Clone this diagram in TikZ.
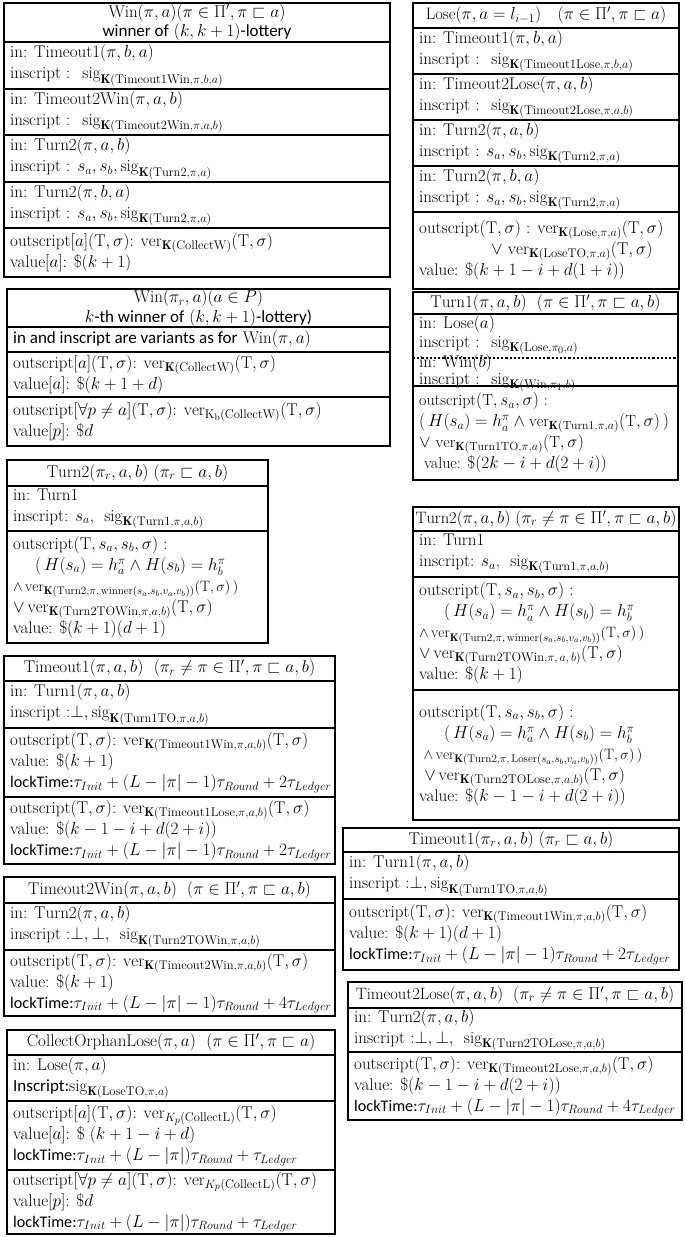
\documentclass[tikz,border=0pt]{standalone}
\usepackage{amsmath,amssymb}
\usepackage{fontspec}
\renewcommand\defaultscriptratio{.74}
\renewcommand\defaultscriptscriptratio{.56}
\newfontfamily\calibfont{Carlito}
\newcommand{\cf}[1]{{\calibfont #1}}
\newcommand{\K}{\mathbf{K}}
\newcommand{\Tt}{\mathrm{T}}
\newcommand{\rmm}[1]{\mathrm{#1}}
\newcommand{\lockline}[1]{{\fontsize{16.2}{21}\selectfont\cf{lockTime:}$#1$}}
\tikzset{
  frame/.style={draw, line width=2.6pt},
  divider/.style={line width=2.2pt},
  dotdiv/.style={line width=2.2pt, dotted},
  txt/.style={anchor=west, align=left, inner sep=0pt, font=\fontsize{17}{21}\selectfont},
  ttl/.style={anchor=center, align=center, inner sep=0pt, font=\fontsize{17}{19.5}\selectfont},
}
\begin{document}
\begin{tikzpicture}[x=1pt,y=-1pt]
\useasboundingbox (0,0) rectangle (685,1237);
% ================= LEFT COLUMN =================
% Win(pi,a)
\draw[frame] (4,3) rectangle (390,277);
\foreach \yy in {42,89,135,182,228} \draw[divider] (4,\yy) -- (390,\yy);
\node[ttl] (winT) at (197,22.5) {$\rmm{Win}(\pi,a)(\pi\in\Pi',\pi\sqsubset a)$\\ \cf{winner of} $(k,k+1)$\cf{-lottery}};
\node[txt] (winA) at (10,65.5) {in: $\rmm{Timeout1}(\pi,b,a)$\\ inscript : \ $\rmm{sig}_{\K(\rmm{Timeout1Win},\pi,b,a)}$};
\node[txt] (winB) at (10,112) {in: $\rmm{Timeout2Win}(\pi,a,b)$\\ inscript : \ $\rmm{sig}_{\K(\rmm{Timeout2Win},\pi,a,b)}$};
\node[txt] (winC) at (10,158.5) {in: $\rmm{Turn2}(\pi,a,b)$\\ inscript : $s_a,s_b,\rmm{sig}_{\K(\rmm{Turn2},\pi,a)}$};
\node[txt] (winD) at (10,205) {in: $\rmm{Turn2}(\pi,b,a)$\\ inscript : $s_a,s_b,\rmm{sig}_{\K(\rmm{Turn2},\pi,a)}$};
\node[txt] (winE) at (10,252.5) {outscript$[a](\Tt,\sigma)$: $\rmm{ver}_{\K(\rmm{CollectW})}(\Tt,\sigma)$\\ value$[a]$: $\$(k+1)$};
% Win(pi_r,a)
\draw[frame] (7,289) rectangle (390,446);
\foreach \yy in {327,352,397} \draw[divider] (7,\yy) -- (390,\yy);
\node[ttl] (winrT) at (198.5,308) {$\rmm{Win}(\pi_r,a)(a\in P)$\\ $k$\cf{-th winner of} $(k,k+1)$\cf{-lottery)}};
\node[txt] (winrA) at (13,339.5) {\cf{in and inscript are variants as for} $\rmm{Win}(\pi,a)$};
\node[txt] (winrB) at (13,374.5) {outscript$[a](\Tt,\sigma)$: $\rmm{ver}_{\K(\rmm{CollectW})}(\Tt,\sigma)$\\ value$[a]$: $\$(k+1+d)$};
\node[txt] (winrC) at (13,421.5) {outscript$[\forall p\neq a](\Tt,\sigma)$: $\rmm{ver}_{\rmm{K}_{\rmm{b}}(\rmm{CollectW})}(\Tt,\sigma)$\\ value$[p]$: $\$d$};
% Turn2(pi_r,a,b)
\draw[frame] (7,460) rectangle (268,643);
\foreach \yy in {486,531} \draw[divider] (7,\yy) -- (268,\yy);
\node[ttl] (t2rT) at (137.5,473) {$\rmm{Turn2}(\pi_r,a,b)\ (\pi_r\sqsubset a,b)$};
\node[txt] (t2rA) at (13,508.5) {in: Turn1\\ inscript: $s_a$, \ $\rmm{sig}_{\K(\rmm{Turn1},\pi,a,b)}$};
\node[txt] (t2rB) at (13,587) {outscript$(\Tt,s_a,s_b,\sigma)$ :\\ \hspace*{22pt}$(\,H(s_a)=h_a^\pi\wedge H(s_b)=h_b^\pi$\\ {\fontsize{15}{21}\selectfont$\wedge\,\rmm{ver}_{\K(\rmm{Turn2},\pi,\,\rmm{winner}(s_a,s_b,v_a,v_b))}(\Tt,\sigma)\,)$}\\ $\vee\,\rmm{ver}_{\K(\rmm{Turn2TOWin},\pi,a,b)}(\Tt,\sigma)$\\ value: $\$(k+1)(d+1)$};
% Timeout1(pi,a,b)
\draw[frame] (4,656) rectangle (335,864);
\foreach \yy in {681,728,797} \draw[divider] (4,\yy) -- (335,\yy);
\node[ttl] (to1T) at (169.5,668.5) {$\rmm{Timeout1}(\pi,a,b)\ \ (\pi_r\neq\pi\in\Pi',\pi\sqsubset a,b)$};
\node[txt] (to1A) at (10,704.5) {in: $\rmm{Turn1}(\pi,a,b)$\\ inscript :$\bot,\rmm{sig}_{\K(\rmm{Turn1TO},\pi,a,b)}$};
\node[txt] (to1B) at (10,762.5) {outscript$(\Tt,\sigma)$: $\rmm{ver}_{\K(\rmm{Timeout1Win},\pi,a,b)}(\Tt,\sigma)$\\ value: $\$(k+1)$\\ \lockline{\tau_{Init}+(L-|\pi|-1)\tau_{Round}+2\tau_{Ledger}}};
\node[txt] (to1C) at (10,830.5) {outscript$(\Tt,\sigma)$: $\rmm{ver}_{\K(\rmm{Timeout1Lose},\pi,a,b)}(\Tt,\sigma)$\\ value: $\$(k-1-i+d(2+i))$\\ \lockline{\tau_{Init}+(L-|\pi|-1)\tau_{Round}+2\tau_{Ledger}}};
% Timeout2Win
\draw[frame] (4,877) rectangle (335,1016);
\foreach \yy in {903,950} \draw[divider] (4,\yy) -- (335,\yy);
\node[ttl] (to2wT) at (169.5,890) {$\rmm{Timeout2Win}(\pi,a,b)\ \ (\pi\in\Pi',\pi\sqsubset a,b)$};
\node[txt] (to2wA) at (10,926.5) {in: $\rmm{Turn2}(\pi,a,b)$\\ inscript :$\bot,\bot,$ \ $\rmm{sig}_{\K(\rmm{Turn2TOWin},\pi,a,b)}$};
\node[txt] (to2wB) at (10,983) {outscript$(\Tt,\sigma)$: $\rmm{ver}_{\K(\rmm{Timeout2Win},\pi,a,b)}(\Tt,\sigma)$\\ value: $\$(k+1)$\\ \lockline{\tau_{Init}+(L-|\pi|-1)\tau_{Round}+4\tau_{Ledger}}};
% CollectOrphanLose
\draw[frame] (7,1030) rectangle (335,1234);
\foreach \yy in {1055,1101,1170} \draw[divider] (7,\yy) -- (335,\yy);
\node[ttl] (colT) at (171,1042.5) {$\rmm{CollectOrphanLose}(\pi,a)\ \ (\pi\in\Pi',\pi\sqsubset a)$};
\node[txt] (colA) at (13,1078) {in: $\rmm{Lose}(\pi,a)$\\ \cf{Inscript:}$\rmm{sig}_{\K(\rmm{LoseTO},\pi,a)}$};
\node[txt] (colB) at (13,1135.5) {outscript$[a](\Tt,\sigma)$: $\rmm{ver}_{K_p(\rmm{CollectL})}(\Tt,\sigma)$\\ value$[a]$: $\$\ (k+1-i+d)$\\ \lockline{\tau_{Init}+(L-|\pi|)\tau_{Round}+\tau_{Ledger}}};
\node[txt] (colC) at (13,1202) {outscript$[\forall p\neq a](\Tt,\sigma)$: $\rmm{ver}_{K_p(\rmm{CollectL})}(\Tt,\sigma)$\\ value$[p]$: $\$d$\\ \lockline{\tau_{Init}+(L-|\pi|)\tau_{Round}+\tau_{Ledger}}};
% ================= RIGHT COLUMN =================
% Lose
\draw[frame] (413,3) rectangle (679,289);
\foreach \yy in {28,74,120,166,212} \draw[divider] (413,\yy) -- (679,\yy);
\node[ttl, font=\fontsize{16.5}{19}\selectfont] (loseT) at (546,15.5) {$\rmm{Lose}(\pi,a=l_{i-1})\quad(\pi\in\Pi',\pi\sqsubset a)$};
\node[txt] (loseA) at (419,51) {in: $\rmm{Timeout1}(\pi,b,a)$\\ inscript : \ $\rmm{sig}_{\K(\rmm{Timeout1Lose},\pi,b,a)}$};
\node[txt] (loseB) at (419,97) {in: $\rmm{Timeout2Lose}(\pi,a,b)$\\ inscript : \ $\rmm{sig}_{\K(\rmm{Timeout2Lose},\pi,a,b)}$};
\node[txt] (loseC) at (419,143) {in: $\rmm{Turn2}(\pi,a,b)$\\ inscript : $s_a,s_b,\rmm{sig}_{\K(\rmm{Turn2},\pi,a)}$};
\node[txt] (loseD) at (419,189) {in: $\rmm{Turn2}(\pi,b,a)$\\ inscript : $s_a,s_b,\rmm{sig}_{\K(\rmm{Turn2},\pi,a)}$};
\node[txt] (loseE) at (419,250.5) {outscript$(\Tt,\sigma)$ : $\rmm{ver}_{\K(\rmm{Lose},\pi,a)}(\Tt,\sigma)$\\ \hspace*{72pt}$\vee\ \rmm{ver}_{\K(\rmm{LoseTO},\pi,a)}(\Tt,\sigma)$\\ value: $\$(k+1-i+d(1+i))$};
% Turn1
\draw[frame] (413,292) rectangle (678,480);
\foreach \yy in {314,386} \draw[divider] (413,\yy) -- (678,\yy);
\draw[dotdiv] (413,358) -- (678,358);
\node[ttl] (t1T) at (545.5,303) {$\rmm{Turn1}(\pi,a,b)\ \ (\pi\in\Pi',\pi\sqsubset a,b)$};
\node[txt, font=\fontsize{17}{19}\selectfont] (t1A) at (419,335) {in: $\rmm{Lose}(a)$\\ inscript : \ $\rmm{sig}_{\K(\rmm{Lose},\pi_0,a)}$};
\node[txt, font=\fontsize{17}{17}\selectfont] (t1B) at (419,373) {in: $\rmm{Win}(b)$\\ inscript : \ $\rmm{sig}_{\K(\rmm{Win},\pi_1,b)}$};
\node[txt, font=\fontsize{16}{21}\selectfont] (t1C) at (419,433) {outscript$(\Tt,s_a,\sigma)$ :\\ $(\,H(s_a)=h_a^\pi\wedge\rmm{ver}_{\K(\rmm{Turn1},\pi,a)}(\Tt,\sigma)\,)$\\ $\vee\ \rmm{ver}_{\K(\rmm{Turn1TO},\pi,a)}(\Tt,\sigma)$\\ \ value: $\$(2k-i+d(2+i))$};
% Turn2(pi,a,b)
\draw[frame] (413,507) rectangle (679,820);
\foreach \yy in {531,577,690} \draw[divider] (413,\yy) -- (679,\yy);
\node[ttl, font=\fontsize{16.5}{19}\selectfont] (t2T) at (546,519) {$\rmm{Turn2}(\pi,a,b)\ (\pi_r\neq\pi\in\Pi',\pi\sqsubset a,b)$};
\node[txt] (t2A) at (419,554) {in: Turn1\\ inscript: $s_a$, \ $\rmm{sig}_{\K(\rmm{Turn1},\pi,a,b)}$};
\node[txt] (t2B) at (419,633.5) {outscript$(\Tt,s_a,s_b,\sigma)$ :\\ \hspace*{25pt}$(\,H(s_a)=h_a^\pi\wedge H(s_b)=h_b^\pi$\\ {\fontsize{15}{21}\selectfont$\wedge\,\rmm{ver}_{\K(\rmm{Turn2},\pi,\,\rmm{winner}(s_a,s_b,v_a,v_b))}(\Tt,\sigma)\,)$}\\ $\vee\,\rmm{ver}_{\K(\rmm{Turn2TOWin},\pi,\,a,\,b)}(\Tt,\sigma)$\\ value: $\$(k+1)$};
\node[txt] (t2C) at (419,755) {outscript$(\Tt,s_a,s_b,\sigma)$ :\\ \hspace*{25pt}$(\,H(s_a)=h_a^\pi\wedge H(s_b)=h_b^\pi$\\ {\fontsize{15}{21}\selectfont\ $\wedge\,\rmm{ver}_{\K(\rmm{Turn2},\pi,\,\rmm{Loser}(s_a,s_b,v_a,v_b))}(\Tt,\sigma)\,)$}\\ \ $\vee\,\rmm{ver}_{\K(\rmm{Turn2TOLose},\pi,a,b)}(\Tt,\sigma)$\\ value: $\$(k-1-i+d(2+i))$};
% Timeout1(pi_r,a,b)
\draw[frame] (343,828) rectangle (679,970);
\foreach \yy in {852,899} \draw[divider] (343,\yy) -- (679,\yy);
\node[ttl] (to1rT) at (511,840) {$\rmm{Timeout1}(\pi_r,a,b)\ (\pi_r\sqsubset a,b)$};
\node[txt] (to1rA) at (349,875.5) {in: $\rmm{Turn1}(\pi,a,b)$\\ inscript :$\bot,\rmm{sig}_{\K(\rmm{Turn1TO},\pi,a,b)}$};
\node[txt] (to1rB) at (349,934.5) {outscript$(\Tt,\sigma)$: $\rmm{ver}_{\K(\rmm{Timeout1Win},\pi,a,b)}(\Tt,\sigma)$\\ value: $\$(k+1)(d+1)$\\ \lockline{\tau_{Init}+(L-|\pi|-1)\tau_{Round}+2\tau_{Ledger}}};
% Timeout2Lose
\draw[frame] (348,982) rectangle (682,1120);
\foreach \yy in {1008,1052} \draw[divider] (348,\yy) -- (682,\yy);
\node[ttl, font=\fontsize{16.5}{19}\selectfont] (to2lT) at (515,995) {$\rmm{Timeout2Lose}(\pi,a,b)\ \ (\pi_r\neq\pi\in\Pi',\pi\sqsubset a,b)$};
\node[txt] (to2lA) at (354,1030) {in: $\rmm{Turn2}(\pi,a,b)$\\ inscript :$\bot,\bot,$ \ $\rmm{sig}_{\K(\rmm{Turn2TOLose},\pi,a,b)}$};
\node[txt] (to2lB) at (354,1086) {outscript$(\Tt,\sigma)$: $\rmm{ver}_{\K(\rmm{Timeout2Lose},\pi,a,b)}(\Tt,\sigma)$\\ value: $\$(k-1-i+d(2+i))$\\ \lockline{\tau_{Init}+(L-|\pi|-1)\tau_{Round}+4\tau_{Ledger}}};
\end{tikzpicture}
\end{document}
